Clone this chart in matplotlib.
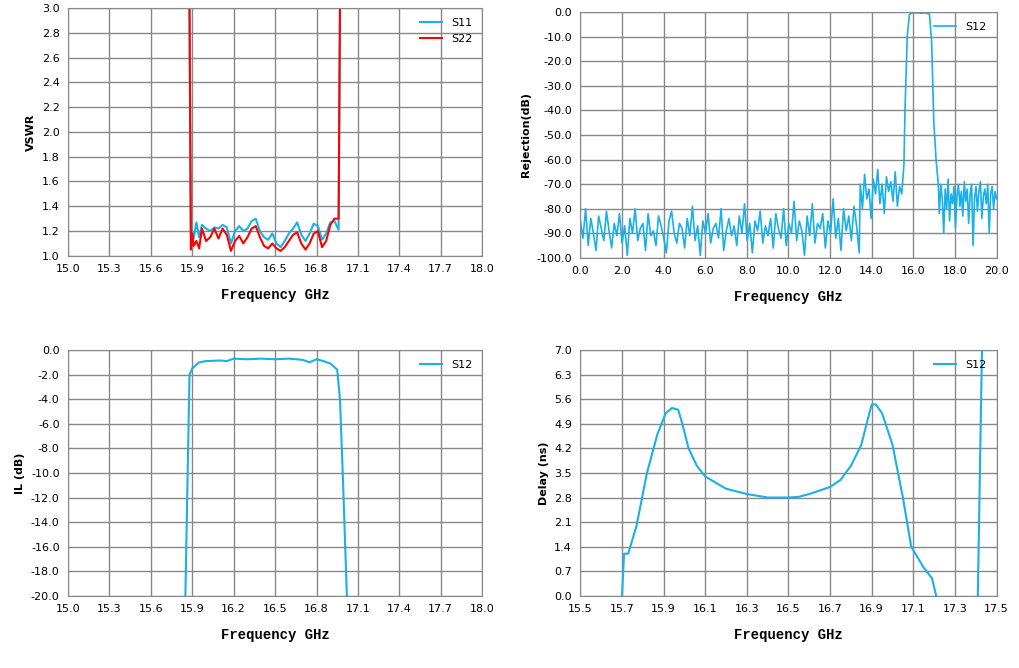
import numpy as np
import matplotlib
matplotlib.use('Agg')
import matplotlib.pyplot as plt

# VSWR
vswr_f = [15.88, 15.89, 15.90, 15.91, 15.93, 15.95, 15.97, 16.00, 16.03, 16.06, 16.09, 16.12, 16.15,
          16.18, 16.21, 16.24, 16.27, 16.30, 16.33, 16.36, 16.39, 16.42, 16.45, 16.48, 16.51, 16.54,
          16.57, 16.60, 16.63, 16.66, 16.69, 16.72, 16.75, 16.78, 16.81, 16.84, 16.87, 16.90, 16.93,
          16.96, 16.97]
s11 = [3.0, 1.15, 1.20, 1.14, 1.27, 1.15, 1.25, 1.22, 1.20, 1.23, 1.22, 1.25, 1.23,
       1.10, 1.20, 1.24, 1.20, 1.22, 1.28, 1.30, 1.20, 1.15, 1.13, 1.18, 1.10, 1.07,
       1.12, 1.18, 1.22, 1.27, 1.17, 1.12, 1.18, 1.26, 1.24, 1.13, 1.18, 1.27, 1.28,
       1.21, 3.0]
s22 = [3.0, 1.05, 1.18, 1.08, 1.12, 1.06, 1.22, 1.12, 1.15, 1.22, 1.14, 1.22, 1.17,
       1.04, 1.12, 1.16, 1.10, 1.15, 1.22, 1.24, 1.15, 1.08, 1.06, 1.10, 1.06, 1.04,
       1.07, 1.12, 1.17, 1.19, 1.10, 1.05, 1.10, 1.18, 1.20, 1.07, 1.12, 1.25, 1.30,
       1.30, 3.0]

# Rejection (wideband S12)
rej_low = [-85, -92, -80, -95, -84, -90, -97, -83, -88, -93, -81, -89, -96, -86, -91, -82, -94, -87,
           -99, -84, -90, -80, -93, -88, -86, -97, -82, -91, -89, -95, -83, -87, -92, -98, -85, -81,
           -90, -94, -86, -88, -96, -84, -91, -79, -93, -87, -99, -85, -90, -82, -94, -88, -86, -92,
           -80, -97, -89, -84, -91, -87, -95, -83, -90, -78, -93, -86, -98, -85, -89, -81, -94, -87,
           -91, -84, -96, -82, -88, -92, -80, -95, -86, -90, -77, -93, -85, -89, -99, -83, -91, -78,
           -94, -86, -88, -82, -96, -85, -90, -76, -92, -84, -97, -80, -89, -83, -93, -79, -87, -98]
rej_mid = [-70, -80, -66, -76, -72, -84, -68, -74, -64, -78, -70, -82, -67, -73, -69, -77, -65, -79,
           -71, -74, -62]
rej_pass = [-40, -10, -1, -0.5, -0.3, -0.4, -0.3, -0.5, -0.4, -0.3, -0.6, -0.8, -12, -45, -60, -70]
rej_high = [-82, -70, -76, -90, -72, -80, -68, -85, -74, -78, -71, -88, -75, -70, -79, -73, -83, -69,
            -77, -72, -86, -74, -70, -95, -76, -71, -81, -73, -69, -84, -75, -72, -78, -70, -90, -74,
            -71, -80, -73, -76]
rej_f = np.concatenate([np.linspace(0, 13.4, len(rej_low)), np.linspace(13.45, 15.55, len(rej_mid)),
                        np.linspace(15.6, 17.2, len(rej_pass)), np.linspace(17.25, 20, len(rej_high))])
rej = rej_low + rej_mid + rej_pass + rej_high

# Insertion loss
il_f = [15.85, 15.88, 15.90, 15.95, 16.00, 16.10, 16.15, 16.20, 16.30, 16.40, 16.50, 16.60, 16.70,
        16.75, 16.80, 16.85, 16.90, 16.95, 16.97, 16.99, 17.02]
il = [-20, -2.0, -1.5, -1.0, -0.9, -0.85, -0.9, -0.7, -0.75, -0.7, -0.75, -0.7, -0.8,
      -1.0, -0.75, -0.9, -1.1, -1.6, -4, -10, -20]

# Group delay
dl_f = [15.70, 15.71, 15.73, 15.77, 15.82, 15.87, 15.91, 15.94, 15.97, 15.99, 16.02, 16.06, 16.10,
        16.20, 16.30, 16.40, 16.50, 16.55, 16.60, 16.70, 16.75, 16.80, 16.85, 16.88, 16.90, 16.92,
        16.95, 17.00, 17.05, 17.09, 17.15, 17.19, 17.21, np.nan, 17.41, 17.43]
dl = [0, 1.2, 1.2, 2.0, 3.5, 4.6, 5.2, 5.35, 5.3, 4.9, 4.2, 3.7, 3.4,
      3.05, 2.9, 2.8, 2.8, 2.82, 2.9, 3.1, 3.3, 3.7, 4.3, 5.0, 5.45, 5.45,
      5.2, 4.3, 2.8, 1.4, 0.8, 0.5, 0, np.nan, 0, 7.0]

CY = '#1ab0e8'
RD = '#ff0000'

fig = plt.figure(figsize=(10.2, 6.68), dpi=100)
lab_font = dict(family='Liberation Mono', fontweight='bold', fontsize=10)


def setup(ax, xt, yt, ylabel, fmt_x='%.1f', fmt_y='%.1f'):
    ax.set_xlim(xt[0], xt[-1])
    ax.set_ylim(yt[0], yt[-1])
    ax.set_xticks(xt)
    ax.set_yticks(yt)
    ax.set_xticklabels([fmt_x % v for v in xt])
    ax.set_yticklabels([fmt_y % v for v in yt])
    ax.grid(True, color='#888888', lw=1)
    ax.tick_params(labelsize=8, length=0, pad=6)
    for s in ax.spines.values():
        s.set_color('#888888')
    ax.set_xlabel('Frequency GHz', labelpad=10, **lab_font)
    ax.set_ylabel(ylabel, fontsize=8, fontweight='bold')
    ax.set_axisbelow(True)


ax1 = fig.add_axes([0.0667, 0.617, 0.406, 0.371])
ax1.plot(vswr_f, s11, color=CY, lw=1.5, label='S11')
ax1.plot(vswr_f, s22, color=RD, lw=1.5, label='S22')
setup(ax1, np.round(np.arange(15.0, 18.01, 0.3), 1), np.round(np.arange(1.0, 3.01, 0.2), 1), 'VSWR')
ax1.legend(loc='upper right', frameon=False, fontsize=8)

ax2 = fig.add_axes([0.569, 0.614, 0.408, 0.368])
ax2.plot(rej_f, rej, color=CY, lw=1.2, label='S12')
setup(ax2, np.arange(0, 20.01, 2.0), np.arange(-100, 0.1, 10.0), 'Rejection(dB)')
ax2.legend(loc='upper right', frameon=False, fontsize=8)

ax3 = fig.add_axes([0.0667, 0.108, 0.406, 0.368])
ax3.plot(il_f, il, color=CY, lw=1.5, label='S12')
setup(ax3, np.round(np.arange(15.0, 18.01, 0.3), 1), np.arange(-20, 0.1, 2.0), 'IL (dB)')
ax3.legend(loc='upper right', frameon=False, fontsize=8)

ax4 = fig.add_axes([0.569, 0.108, 0.408, 0.368])
ax4.plot(dl_f, dl, color=CY, lw=1.5, label='S12')
setup(ax4, np.round(np.arange(15.5, 17.51, 0.2), 1), np.round(np.arange(0, 7.01, 0.7), 1), 'Delay (ns)')
ax4.legend(loc='upper right', frameon=False, fontsize=8)

fig.savefig('out.png', dpi=100)
